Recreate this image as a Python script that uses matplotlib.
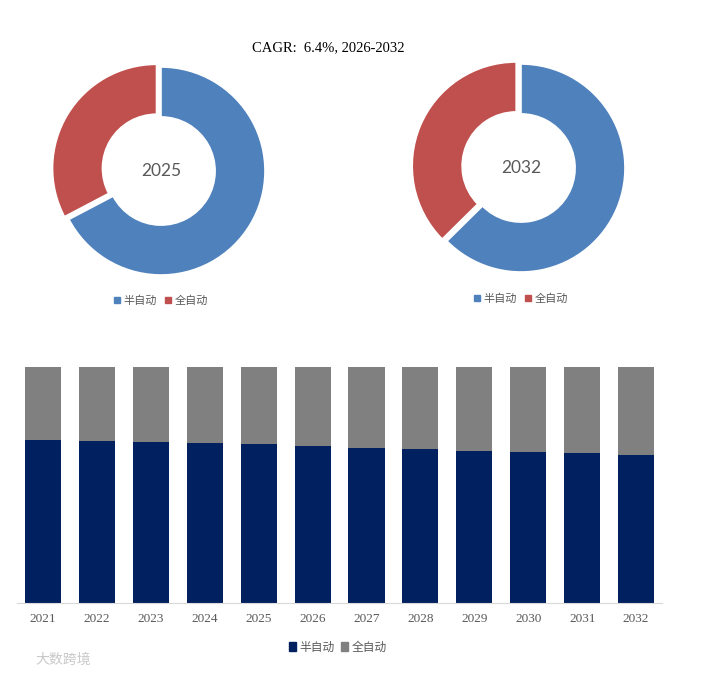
import matplotlib
matplotlib.use("Agg")
import matplotlib.pyplot as plt
import matplotlib.patches as mpatches

plt.rcParams["font.family"] = ["Noto Sans CJK SC", "DejaVu Sans"]

# ---- data ----
series_names = ["半自动", "全自动"]
donut_years = ["2025", "2032"]
donut_semi = [0.673, 0.626]
donut_full = [0.327, 0.374]

years = ["2021", "2022", "2023", "2024", "2025", "2026",
         "2027", "2028", "2029", "2030", "2031", "2032"]
semi_share = [0.690, 0.685, 0.681, 0.677, 0.673, 0.664,
              0.656, 0.652, 0.643, 0.639, 0.635, 0.626]
full_share = [0.310, 0.315, 0.319, 0.323, 0.327, 0.336,
              0.344, 0.348, 0.357, 0.361, 0.365, 0.374]

title_text = "CAGR:  6.4%, 2026-2032"

PIE_COLORS = ["#4F81BD", "#C0504D"]
BAR_COLORS = ["#002060", "#808080"]
TEXT_GRAY = "#595959"

W, H = 702, 674
fig = plt.figure(figsize=(W / 100, H / 100), dpi=100)


def px_axes(left, top, width, height):
    # pixel box (from top-left) -> figure fraction
    return fig.add_axes([left / W, (H - top - height) / H, width / W, height / H])


fig.text(328 / W, 1 - 48 / H, title_text, ha="center", va="center",
         fontsize=10.5, family=["Liberation Serif", "Noto Sans CJK SC"], color="black")

donut_centers = [(161, 171), (521, 168)]
legend_pos = [(161, 301), (521, 299)]
for i, yr in enumerate(donut_years):
    cx, cy = donut_centers[i]
    r = 104
    ax = px_axes(cx - r, cy - r, 2 * r, 2 * r)
    ax.pie([donut_semi[i], donut_full[i]], colors=PIE_COLORS, startangle=90,
           counterclock=False, explode=[0, 0.05],
           wedgeprops=dict(width=0.48, edgecolor="white", linewidth=1.2))
    ax.set_xlim(-1, 1)
    ax.set_ylim(-1, 1)
    ax.set_aspect("auto")
    ax.text(0, 0, yr, ha="center", va="center", fontsize=12.5, color=TEXT_GRAY,
            family=["Lato", "DejaVu Sans"])
    handles = [mpatches.Patch(color=c, label=n) for c, n in zip(PIE_COLORS, series_names)]
    lx, ly = legend_pos[i]
    fig.legend(handles=handles, loc="center", ncol=2, frameon=False,
               bbox_to_anchor=(lx / W, 1 - ly / H), fontsize=8,
               handlelength=0.5, handleheight=0.5, handletextpad=0.3, columnspacing=0.8,
               labelcolor=TEXT_GRAY)

# ---- stacked bar ----
bx = px_axes(17, 367, 645, 236)
x = list(range(len(years)))
bx.bar(x, semi_share, width=0.67, color=BAR_COLORS[0], label=series_names[0])
bx.bar(x, full_share, width=0.67, bottom=semi_share, color=BAR_COLORS[1], label=series_names[1])
bx.set_xlim(-0.482, 11.48)
bx.set_ylim(0, 1)
bx.set_yticks([])
bx.set_xticks(x)
bx.set_xticklabels(years, family="Liberation Serif", fontsize=9.5, color=TEXT_GRAY)
bx.tick_params(axis="x", length=0, pad=7)
for s in ["top", "left", "right"]:
    bx.spines[s].set_visible(False)
bx.spines["bottom"].set_color("#D9D9D9")

bar_handles = [mpatches.Patch(color=c, label=n) for c, n in zip(BAR_COLORS, series_names)]
fig.legend(handles=bar_handles, loc="center", ncol=2, frameon=False,
           bbox_to_anchor=(338 / W, 1 - 647 / H), fontsize=8.5,
           handlelength=0.6, handleheight=0.8, handletextpad=0.3, columnspacing=0.5,
           labelcolor=TEXT_GRAY)

# watermark
fig.text(35 / W, 1 - 660 / H, "大数跨境", ha="left", va="center", fontsize=10,
         color="#BBBBBB", alpha=0.8)

fig.savefig("out.png", dpi=100)
